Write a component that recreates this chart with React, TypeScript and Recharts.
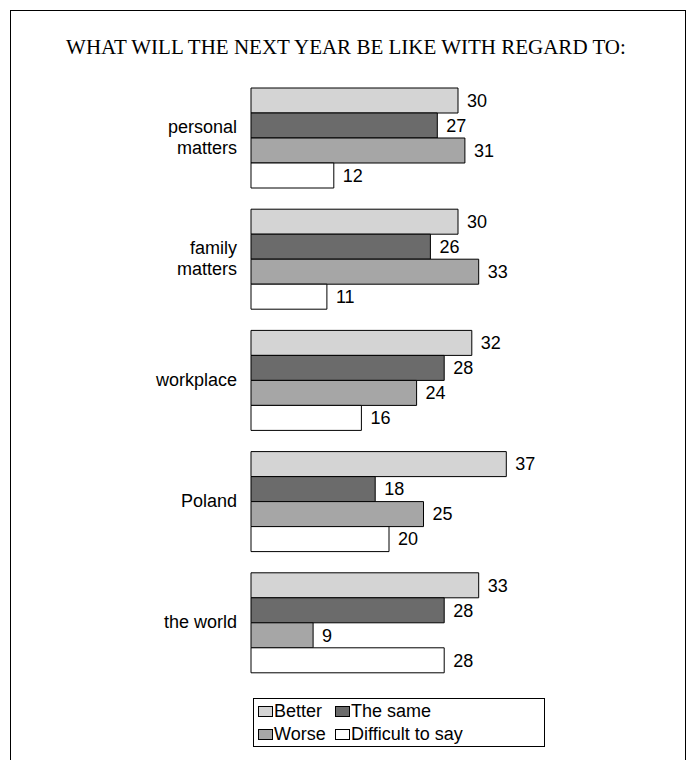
import { Bar, BarChart, LabelList, XAxis, YAxis } from "recharts"

const categories = ["personal\nmatters", "family\nmatters", "workplace", "Poland", "the world"]
const better = [30, 30, 32, 37, 33]
const theSame = [27, 26, 28, 18, 28]
const worse = [31, 33, 24, 25, 9]
const difficult = [12, 11, 16, 20, 28]

const seriesNames = ["Better", "The same", "Worse", "Difficult to say"]
const seriesColors = ["#d4d4d4", "#6b6b6b", "#a6a6a6", "#ffffff"]

const data = categories.map((name, i) => ({
  name,
  better: better[i],
  same: theSame[i],
  worse: worse[i],
  difficult: difficult[i],
}))

const FONT = "'Liberation Sans', Arial, sans-serif"

function CategoryTick(props: any) {
  const { x, y, payload } = props
  const lines = String(payload.value).split("\n")
  const lineH = 21
  const start = y - ((lines.length - 1) * lineH) / 2
  return (
    <text x={x} y={start} textAnchor="end" fontSize={18} fontFamily={FONT} fill="#000" dominantBaseline="central">
      {lines.map((l, i) => (
        <tspan key={i} x={x} y={start + i * lineH}>
          {l}
        </tspan>
      ))}
    </text>
  )
}

function Swatch({ color }: { color: string }) {
  return (
    <span
      style={{
        display: "inline-block",
        width: 13,
        height: 9,
        background: color,
        border: "1px solid #000",
        marginRight: 1,
        verticalAlign: "middle",
        position: "relative",
        top: -1,
      }}
    />
  )
}

function LegendBox() {
  const item = (i: number, w: number) => (
    <span style={{ display: "inline-block", width: w, whiteSpace: "nowrap" }}>
      <Swatch color={seriesColors[i]} />
      {seriesNames[i]}
    </span>
  )
  return (
    <div
      style={{
        position: "absolute",
        left: 253,
        top: 698,
        width: 292,
        height: 49,
        border: "1px solid #000",
        fontFamily: FONT,
        fontSize: 18,
        lineHeight: "23px",
        paddingLeft: 4,
        paddingTop: 1,
        boxSizing: "border-box",
        background: "#fff",
        color: "#000",
      }}
    >
      <div>
        {item(0, 77)}
        {item(1, 190)}
      </div>
      <div>
        {item(2, 77)}
        {item(3, 190)}
      </div>
    </div>
  )
}

export default function App() {
  return (
    <div style={{ position: "absolute", left: 0, top: 0, width: 693, height: 760, background: "#fff", overflow: "hidden" }}>
      <div
        style={{
          position: "absolute",
          left: 10,
          top: 10,
          width: 674,
          height: 800,
          borderLeft: "1px solid #000",
          borderTop: "1px solid #000",
          borderRight: "1px solid #000",
        }}
      />
      <div
        style={{
          position: "absolute",
          left: 0,
          top: 35,
          width: 692,
          textAlign: "center",
          fontFamily: "'Liberation Serif', 'Times New Roman', serif",
          fontSize: 21,
          color: "#000",
        }}
      >
        WHAT WILL THE NEXT YEAR BE LIKE WITH REGARD TO:
      </div>
      <div style={{ position: "absolute", left: 0, top: 0 }}>
        <BarChart
          width={693}
          height={760}
          data={data}
          layout="vertical"
          margin={{ top: 77, right: 166, bottom: 77, left: 0 }}
          barGap={0}
        >
          <XAxis type="number" domain={[0, 40]} hide />
          <YAxis
            type="category"
            dataKey="name"
            width={251}
            axisLine={false}
            tickLine={false}
            tickSize={0}
            tickMargin={14}
            interval={0}
            tick={<CategoryTick />}
          />
          {(["better", "same", "worse", "difficult"] as const).map((k, i) => (
            <Bar
              key={k}
              dataKey={k}
              name={seriesNames[i]}
              fill={seriesColors[i]}
              stroke="#000"
              strokeWidth={1}
              barSize={25}
              isAnimationActive={false}
            >
              <LabelList dataKey={k} position="right" offset={9} fill="#000" fontSize={18} fontFamily={FONT} />
            </Bar>
          ))}
        </BarChart>
      </div>
      <LegendBox />
    </div>
  )
}
